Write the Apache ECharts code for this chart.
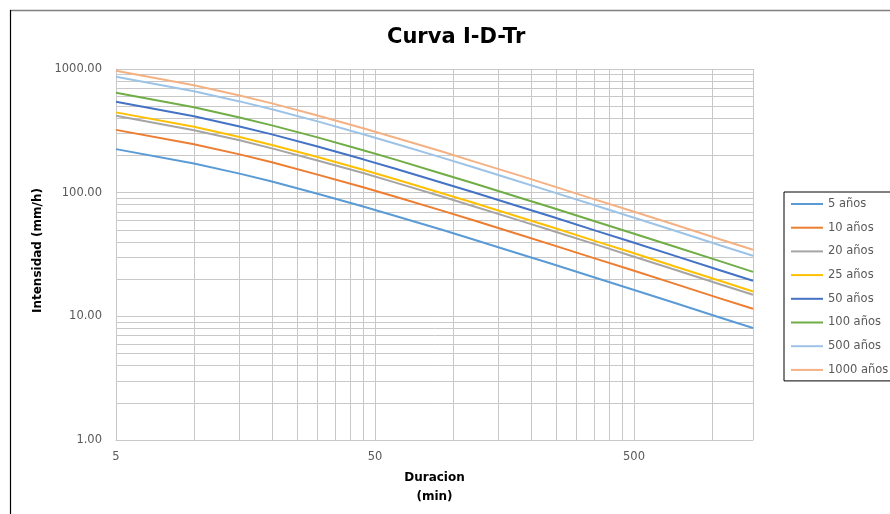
<!DOCTYPE html>
<html>
<head>
<meta charset="utf-8">
<script src="https://cdn.jsdelivr.net/npm/echarts@6/dist/echarts.min.js"></script>
<style>html,body{margin:0;padding:0;background:#fff;}#c{width:890px;height:514px;}</style>
</head>
<body>
<div id="c"></div>
<script>
// Durations (min)
const durations = [5, 10, 15, 20, 30, 45, 60, 90, 120, 180, 240, 360, 480, 720, 1080, 1440];
// Intensities (mm/h) per return period
const tr5    = [225, 172, 142.5, 123, 98, 77.3, 64.8, 50.3, 41.8, 32.1, 26.6, 20.3, 16.8, 12.8, 9.75, 8.04];
const tr10   = [322, 246, 204, 176, 140, 110.5, 92.7, 71.9, 59.8, 45.9, 38.0, 29.0, 24.0, 18.3, 13.9, 11.5];
const tr20   = [419, 320, 265, 228, 182, 144, 120.5, 93.5, 77.7, 59.7, 49.5, 37.8, 31.2, 23.8, 18.1, 14.95];
const tr25   = [446, 341, 282, 243, 194, 153, 128.3, 99.5, 82.8, 63.6, 52.7, 40.2, 33.3, 25.3, 19.3, 15.9];
const tr50   = [543, 415, 343, 296, 236, 186, 156, 121, 100.7, 77.4, 64.1, 48.9, 40.5, 30.8, 23.5, 19.4];
const tr100  = [642, 491, 406, 350, 280, 220, 185, 143, 119, 91.5, 75.8, 57.9, 47.9, 36.5, 27.8, 22.9];
const tr500  = [865, 662, 547, 472, 377, 297, 249, 193, 160.5, 123, 102, 78, 64.5, 49.2, 37.4, 30.9];
const tr1000 = [966, 740, 611, 527, 421, 332, 278, 216, 179, 138, 114, 87, 72, 55, 41.8, 34.5];

const seriesNames = ['5 años', '10 años', '20 años', '25 años', '50 años', '100 años', '500 años', '1000 años'];
const seriesValues = [tr5, tr10, tr20, tr25, tr50, tr100, tr500, tr1000];
const colors = ['#5B9BD5', '#ED7D31', '#A5A5A5', '#FFC000', '#4472C4', '#70AD47', '#9DC3E6', '#F4B183'];

// Tick labels and gridline values
const xTickLabels = [5, 50, 500];
const xGridValues = [5, 10, 15, 20, 25, 30, 35, 40, 45, 50, 100, 150, 200, 250, 300, 350, 400, 450, 500, 1000, 1440];
const yTickLabels = [1, 10, 100, 1000];
const yGridValues = [1, 2, 3, 4, 5, 6, 7, 8, 9, 10, 20, 30, 40, 50, 60, 70, 80, 90, 100, 200, 300, 400, 500, 600, 700, 800, 900, 1000];

const FONT = 'DejaVu Sans';
const GRID = '#c8c8c8';

const chart = echarts.init(document.getElementById('c'), null, {renderer: 'canvas'});
chart.setOption({
  animation: false,
  backgroundColor: '#fff',
  color: colors,
  textStyle: {fontFamily: FONT},
  title: {
    text: 'Curva I-D-Tr',
    left: 387, top: 27, padding: 0,
    textStyle: {fontFamily: FONT, fontSize: 21, fontWeight: 'bold', color: '#000'}
  },
  graphic: [
    {type: 'line', shape: {x1: 10, y1: 10.5, x2: 900, y2: 10.5}, style: {stroke: '#7f7f7f', lineWidth: 1.5}},
    {type: 'line', shape: {x1: 10.5, y1: 10, x2: 10.5, y2: 520}, style: {stroke: '#000', lineWidth: 1.2}}
  ],
  legend: {
    orient: 'vertical',
    left: 784, top: 192,
    itemWidth: 32, itemHeight: 14, itemGap: 11.7,
    padding: [6, 8, 5, 7],
    icon: 'path://M0,0H32V2H0Z',
    itemStyle: {borderWidth: 0},
    borderColor: '#000', borderWidth: 1,
    textStyle: {fontFamily: FONT, fontSize: 11.5, color: '#595959'},
    data: seriesNames
  },
  grid: {left: 116, top: 69, width: 637, height: 371, containLabel: false},
  xAxis: {
    type: 'log', logBase: 10, min: 5, max: 1440,
    name: 'Duracion\n(min)', nameLocation: 'middle', nameGap: 27,
    nameTextStyle: {fontFamily: FONT, fontSize: 12, fontWeight: 'bold', color: '#000', lineHeight: 19},
    axisLine: {show: true, lineStyle: {color: GRID, width: 1}},
    axisTick: {show: false, customValues: xGridValues},
    axisLabel: {customValues: xTickLabels, margin: 11, fontFamily: FONT, fontSize: 11.5, color: '#595959',
      formatter: v => String(Math.round(v))},
    splitLine: {show: true, lineStyle: {color: GRID, width: 1}},
    minorSplitLine: {show: false}
  },
  yAxis: {
    type: 'log', logBase: 10, min: 1, max: 1000,
    name: 'Intensidad (mm/h)', nameLocation: 'middle', nameGap: 65, nameRotate: 90,
    nameTextStyle: {fontFamily: FONT, fontSize: 12, fontWeight: 'bold', color: '#000', padding: [0, 0, 0, 8]},
    axisLine: {show: true, lineStyle: {color: GRID, width: 1}},
    axisTick: {show: false, customValues: yGridValues},
    axisLabel: {customValues: yTickLabels, margin: 14, fontFamily: FONT, fontSize: 11.5, color: '#595959',
      formatter: v => Number(v).toFixed(2)},
    splitLine: {show: true, lineStyle: {color: GRID, width: 1}}
  },
  series: seriesNames.map((name, i) => ({
    name: name,
    type: 'line',
    symbol: 'none',
    smooth: false,
    lineStyle: {width: 2, color: colors[i]},
    itemStyle: {color: colors[i]},
    data: durations.map((d, k) => [d, seriesValues[i][k]])
  }))
});
</script>
</body>
</html>
